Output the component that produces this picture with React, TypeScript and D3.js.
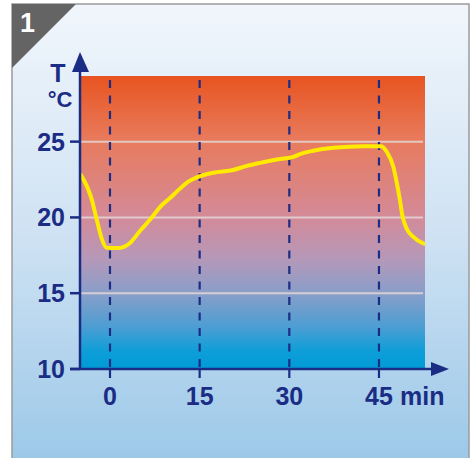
import React from "react";
import * as d3 from "d3";

const times = [-4.85, -3.1, -2.2, -1.4, -0.55, 1.4, 3.3, 5.0, 7.0, 8.4, 10.0, 11.7, 13.1, 14.5, 17.3, 20.6, 22.9, 25.1, 28.4, 30.7, 31.8, 34.0, 37.4, 42.4, 45.4, 46.3, 47.4, 48.0, 48.5, 48.95, 49.6, 50.7, 52.4, 52.7];
const temps = [22.8, 21.26, 19.83, 18.62, 18.0, 17.98, 18.3, 19.1, 20.0, 20.7, 21.26, 21.9, 22.36, 22.64, 22.95, 23.13, 23.4, 23.6, 23.85, 24.0, 24.18, 24.4, 24.6, 24.7, 24.7, 24.33, 23.34, 22.24, 21.15, 20.05, 19.28, 18.73, 18.29, 18.25];
const xTicks = [0, 15, 30, 45];
const yTicks = [10, 15, 20, 25];
const gridTicks = [15, 20, 25];

const NAVY = "#1b2c85";
const FONT = "'Liberation Sans', Arial, sans-serif";

export default function App() {
  const left = 81, right = 425, top = 76, bottom = 369;
  const x = d3.scaleLinear().domain([-4.85, 52.7]).range([left, right]);
  const y = d3.scaleLinear().domain([10, 29.33]).range([bottom, top]);
  const pts: [number, number][] = times.map((t, i) => [t, temps[i]]);
  const line = d3
    .line<[number, number]>()
    .x((d) => x(d[0]))
    .y((d) => y(d[1]))
    .curve(d3.curveMonotoneX);

  return (
    <svg width={470} height={458} style={{ position: "absolute", left: 0, top: 0 }}>
      <defs>
        <linearGradient id="panelG" x1="0" y1="0" x2="0" y2="1">
          <stop offset="0" stopColor="#f1f6fc" />
          <stop offset="0.5" stopColor="#cfe2f3" />
          <stop offset="1" stopColor="#9bc8e8" />
        </linearGradient>
        <linearGradient id="plotG" x1="0" y1="0" x2="0" y2="1">
          <stop offset="0" stopColor="#e85420" />
          <stop offset="0.22" stopColor="#e87b5d" />
          <stop offset="0.48" stopColor="#d48a98" />
          <stop offset="0.62" stopColor="#b698b8" />
          <stop offset="0.74" stopColor="#8a9ec9" />
          <stop offset="0.86" stopColor="#4a9ed3" />
          <stop offset="0.94" stopColor="#0d9ed8" />
          <stop offset="1" stopColor="#009bd6" />
        </linearGradient>
        <clipPath id="plotClip">
          <rect x={left} y={top} width={right - left} height={bottom - top} />
        </clipPath>
      </defs>
      <rect x={0} y={0} width={470} height={458} fill="#ffffff" />
      <rect x={12} y={4} width={457} height={460} fill="url(#panelG)" stroke="#9a9a9a" strokeWidth={1.5} />
      <polygon points="12,4 76,4 12,68" fill="#646464" />
      <text x={27.5} y={32} fill="#ffffff" fontFamily={FONT} fontWeight="bold" fontSize={27} textAnchor="middle">1</text>

      <rect x={left} y={top} width={right - left} height={bottom - top} fill="url(#plotG)" />
      {gridTicks.map((v) => (
        <line key={v} x1={left} x2={right - 2} y1={y(v)} y2={y(v)} stroke="#e3d6d6" strokeOpacity={0.85} strokeWidth={2} />
      ))}
      {xTicks.map((t) => (
        <line key={t} x1={x(t)} x2={x(t)} y1={top + 4} y2={bottom} stroke={NAVY} strokeWidth={2.2} strokeDasharray="8,7.5" />
      ))}
      <path d={line(pts) || ""} fill="none" stroke="#ffea00" strokeWidth={4} strokeLinejoin="round" strokeLinecap="round" clipPath="url(#plotClip)" />

      {/* axes */}
      <line x1={80} x2={80} y1={70} y2={bottom} stroke={NAVY} strokeWidth={2.5} />
      <polygon points="80,52 72,72 89,72" fill={NAVY} />
      <line x1={70} x2={433} y1={bottom} y2={bottom} stroke={NAVY} strokeWidth={2.5} />
      <polygon points="449,369 431,362 431,376" fill={NAVY} />
      {yTicks.map((v) => (
        <g key={v}>
          <line x1={70} x2={80} y1={y(v)} y2={y(v)} stroke={NAVY} strokeWidth={2.5} />
          <text x={65} y={y(v) + 9} fill={NAVY} fontFamily={FONT} fontWeight="bold" fontSize={25} textAnchor="end">{v}</text>
        </g>
      ))}
      {xTicks.map((t) => (
        <g key={t}>
          <line x1={x(t)} x2={x(t)} y1={bottom} y2={bottom + 9} stroke={NAVY} strokeWidth={2.2} />
          <text x={x(t)} y={405} fill={NAVY} fontFamily={FONT} fontWeight="bold" fontSize={25} textAnchor="middle">{t}</text>
        </g>
      ))}
      <text x={400} y={405} fill={NAVY} fontFamily={FONT} fontWeight="bold" fontSize={25}>min</text>
      <text x={58} y={82} fill={NAVY} fontFamily={FONT} fontWeight="bold" fontSize={25} textAnchor="middle">T</text>
      <text x={60} y={107} fill={NAVY} fontFamily={FONT} fontWeight="bold" fontSize={22} textAnchor="middle">°C</text>
    </svg>
  );
}
